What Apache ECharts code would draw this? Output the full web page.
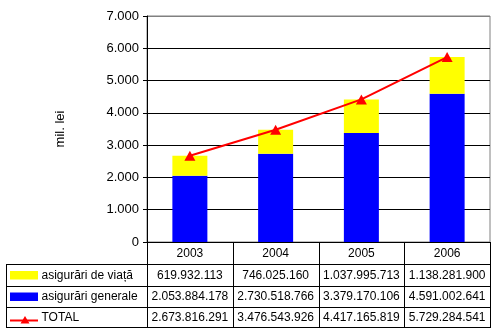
<!DOCTYPE html>
<html>
<head>
<meta charset="utf-8">
<script src="https://cdn.jsdelivr.net/npm/echarts@6/dist/echarts.min.js"></script>
<style>
  html, body { margin: 0; padding: 0; background: #fff; }
  #chart { width: 496px; height: 334px; }
</style>
</head>
<body>
<div id="chart"></div>
<script>
// Insurance premiums by year, in lei
const years = ['2003', '2004', '2005', '2006'];
const lifeIns = [619932113, 746025160, 1037995713, 1138281900];
const generalIns = [2053884178, 2730518766, 3379170106, 4591002641];
const totalIns = [2673816291, 3476543926, 4417165819, 5729284541];
const yTicks = [0, 1000, 2000, 3000, 4000, 5000, 6000, 7000];

const seriesNames = ['asigurări de viață', 'asigurări generale', 'TOTAL'];
const FONT = "'Liberation Sans', Arial, sans-serif";

const toMil = v => v / 1e6;
const dotted = n => String(n).replace(/\B(?=(\d{3})+(?!\d))/g, '.');

const chart = echarts.init(document.getElementById('chart'), null, { renderer: 'canvas' });

const option = {
  animation: false,
  backgroundColor: '#ffffff',
  textStyle: { fontFamily: FONT, color: '#000' },
  grid: {
    left: 147, right: 6, top: 16, bottom: 92,
    show: true, borderColor: '#808080', borderWidth: 1, backgroundColor: 'transparent'
  },
  xAxis: {
    type: 'category',
    data: years,
    axisLine: { lineStyle: { color: '#000', width: 1 } },
    axisTick: { show: false },
    axisLabel: { fontSize: 12, color: '#000', margin: 6, fontFamily: FONT }
  },
  yAxis: {
    type: 'value',
    min: yTicks[0],
    max: yTicks[yTicks.length - 1],
    interval: 1000,
    name: 'mil. lei',
    nameLocation: 'middle',
    nameRotate: 90,
    nameGap: 80,
    nameTextStyle: { fontSize: 13, color: '#000', fontFamily: FONT },
    axisLine: { show: true, lineStyle: { color: '#000', width: 1 } },
    axisTick: { show: true, length: 4, lineStyle: { color: '#000' } },
    axisLabel: {
      fontSize: 13, color: '#000', margin: 8, fontFamily: FONT,
      formatter: v => dotted(v)
    },
    splitLine: {
      show: true,
      lineStyle: {
        width: 1,
        color: yTicks.map((t, i) => i === yTicks.length - 1 ? '#808080' : '#000000')
      }
    }
  },
  series: [
    {
      name: seriesNames[1],
      type: 'bar',
      stack: 'ins',
      barWidth: 35,
      itemStyle: { color: '#0000ff' },
      data: generalIns.map(toMil)
    },
    {
      name: seriesNames[0],
      type: 'bar',
      stack: 'ins',
      barWidth: 35,
      itemStyle: { color: '#ffff00' },
      data: lifeIns.map(toMil)
    },
    {
      name: seriesNames[2],
      type: 'line',
      symbol: 'triangle',
      symbolSize: [11, 10],
      lineStyle: { color: '#ff0000', width: 2 },
      itemStyle: { color: '#ff0000' },
      data: totalIns.map(toMil),
      z: 5
    }
  ]
};

chart.setOption(option);

// Data table under the plot, aligned with the category columns
function buildTable() {
  const c0 = chart.convertToPixel({ xAxisIndex: 0 }, years[0]);
  const c1 = chart.convertToPixel({ xAxisIndex: 0 }, years[1]);
  const colW = c1 - c0;
  const x0 = c0 - colW / 2;
  const xEnd = x0 + colW * years.length;
  const yTop = chart.convertToPixel({ yAxisIndex: 0 }, 0);
  const rowLines = [yTop + 22, yTop + 44, yTop + 65, yTop + 85];
  const tableLeft = 6;
  const els = [];
  const line = (x1, y1, x2, y2) => els.push({
    type: 'line', shape: { x1, y1, x2, y2 },
    style: { stroke: '#000', lineWidth: 1 }, silent: true
  });

  // column separators
  for (let i = 0; i <= years.length; i++) {
    const x = Math.round(x0 + colW * i) + 0.5;
    line(x, yTop, x, rowLines[3]);
  }
  line(tableLeft + 0.5, rowLines[0], tableLeft + 0.5, rowLines[3]);
  rowLines.forEach(y => line(tableLeft, Math.round(y) + 0.5, Math.round(xEnd) + 1, Math.round(y) + 0.5));

  const rows = [lifeIns, generalIns, totalIns];
  rows.forEach((vals, r) => {
    const yc = (rowLines[r] + rowLines[r + 1]) / 2 + 0.5;
    vals.forEach((v, i) => {
      els.push({
        type: 'text', silent: true,
        style: {
          x: x0 + colW * (i + 0.5), y: yc, text: dotted(v),
          textAlign: 'center', textVerticalAlign: 'middle',
          font: '12px ' + FONT, fill: '#000'
        }
      });
    });
    els.push({
      type: 'text', silent: true,
      style: {
        x: 41.5, y: yc, text: seriesNames[r],
        textAlign: 'left', textVerticalAlign: 'middle',
        font: '12px ' + FONT, fill: '#000'
      }
    });
    if (r < 2) {
      els.push({
        type: 'rect', silent: true,
        shape: { x: 10, y: yc - 4.5, width: 28, height: 8.5 },
        style: { fill: r === 0 ? '#ffff00' : '#0000ff' }
      });
    } else {
      els.push({
        type: 'line', silent: true,
        shape: { x1: 10, y1: yc + 3, x2: 38, y2: yc + 3 },
        style: { stroke: '#ff0000', lineWidth: 2 }
      });
      els.push({
        type: 'polygon', silent: true,
        shape: { points: [[25, yc - 1.5], [20.5, yc + 6], [29.5, yc + 6]] },
        style: { fill: '#ff0000' }
      });
    }
  });
  chart.setOption({ graphic: els });
}
buildTable();
</script>
</body>
</html>
